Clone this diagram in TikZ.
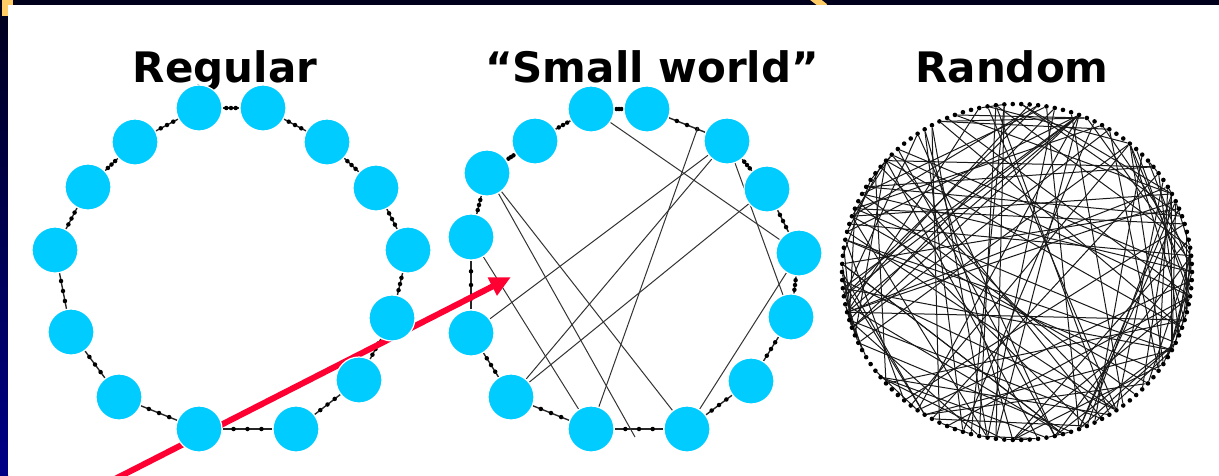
\documentclass[tikz,border=0pt]{standalone}
\usepackage{fontspec}
\setmainfont{DejaVu Sans}
\usetikzlibrary{arrows.meta, backgrounds}
\definecolor{slidenavy}{RGB}{0, 0, 28}
\definecolor{slideblue}{RGB}{0, 0, 135}
\definecolor{slideorange}{RGB}{255, 204, 102}
\definecolor{nodeblue}{RGB}{0, 204, 255}
\definecolor{arrowred}{RGB}{255, 0, 51}

\begin{document}
\begin{tikzpicture}[x=1pt, y=-1pt,
        big/.style={circle, fill=nodeblue, draw=white, line width=1.2pt, minimum size=46pt, inner sep=0pt},
        tdot/.style={circle, fill=black, inner sep=0pt, minimum size=4.5pt},
        rdot/.style={circle, fill=black, inner sep=0pt, minimum size=4.6pt},
        ring/.style={draw=black!85, line width=1.4pt},
        link/.style={draw=black!80, line width=1pt},
        title/.style={anchor=base, font=\fontsize{42}{48}\selectfont\bfseries},
        arr/.style={-{Triangle[length=21pt, width=19pt]}, line width=6pt, arrowred}
    ]
        \useasboundingbox (0,0) rectangle (1219,475);

        \node[title] (treg) at (225,82) {Regular};
        \node[title] (tsw) at (652,82) {“Small world”};
        \node[title] (trand) at (1012,82) {Random};

        \foreach \n/\x/\y in {1/199/108, 2/263/108, 3/327/142, 4/376/188, 5/408/250, 6/392/318, 7/359/380,
                              8/296/429, 9/199/429, 10/119/397, 11/71/332, 12/55/250, 13/88/187, 14/135/142}
            \node[big] (r\n) at (\x,\y) {};
        \foreach \n/\x/\y in {1/591/109, 2/647/109, 3/727/141, 4/767/189, 5/799/253, 6/791/317, 7/751/381,
                              8/687/429, 9/591/429, 10/511/397, 11/471/333, 12/471/237, 13/487/173, 14/535/141}
            \node[big] (s\n) at (\x,\y) {};
        \coordinate (p23) at (698,127);
        \coordinate (p89) at (635,437);

        \foreach \i in {1,...,130}
            \node[rdot] (d\i) at ({1017+175*cos(2.76923*\i)}, {272+168*sin(2.76923*\i)}) {};

        \coordinate (arrfrom) at (115,479);
        \coordinate (arrto) at (511,277);

        \begin{scope}[on background layer]
            \fill[slidenavy] (0,0) rectangle (1219,5);
            \shade[top color=slidenavy, bottom color=slideblue] (0,0) rectangle (8,475);
            \fill[slideorange] (2,0) rectangle (12.5,15.5);
            \draw[slideorange, line width=7pt] (812,-3) -- (825,7);
            \fill[white] (8,5) rectangle (1219,475);
            \foreach \a/\b in {r1/r2, r2/r3, r3/r4, r4/r5, r5/r6, r6/r7, r7/r8, r8/r9, r9/r10, r10/r11, r11/r12, r12/r13, r13/r14, r14/r1,
                               s1/s2, s2/s3, s3/s4, s4/s5, s5/s6, s6/s7, s7/s8, s8/s9, s9/s10, s10/s11, s11/s12, s12/s13, s13/s14, s14/s1}
                \draw[ring] (\a) -- node[tdot, pos=.22] {} node[tdot, pos=.5] {} node[tdot, pos=.78] {} (\b);
            \foreach \a/\b in {s1/s5, p23/s9, s3/s10, s3/s6, s3/s11, s4/s10, s13/s8, s13/p89, s12/s9, s5/s8}
                \draw[link] (\a) -- (\b);
            \pgfmathsetseed{12}
            \foreach \k in {1,...,150} {
                \pgfmathtruncatemacro\pa{random(1,130)}
                \pgfmathtruncatemacro\pb{random(1,130)}
                \draw[link, draw=black!90] (d\pa) -- (d\pb);
            }
            \draw[arr] (arrfrom) -- (arrto);
        \end{scope}
    \end{tikzpicture}
\end{document}
